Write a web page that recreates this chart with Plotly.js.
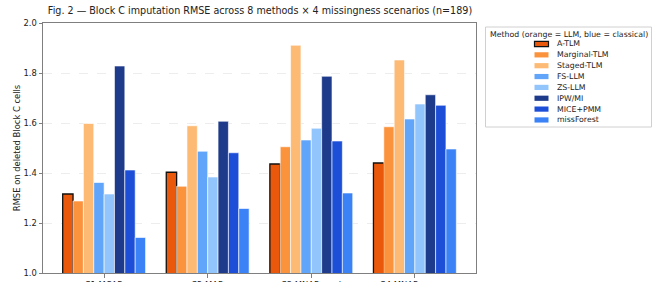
<!DOCTYPE html>
<html>
<head>
<meta charset="utf-8">
<script src="https://cdn.plot.ly/plotly-3.0.1.min.js"></script>
<style>html,body{margin:0;padding:0;background:#fff;}#chart{width:661px;height:282px;}</style>
</head>
<body>
<div id="chart"></div>
<script>
const scenarios = ["S1 MCAR", "S2 MAR", "S3 MNAR-mod", "S4 MNAR-severe"];
const methods = ["A-TLM", "Marginal-TLM", "Staged-TLM", "FS-LLM", "ZS-LLM", "IPW/MI", "MICE+PMM", "missForest"];
const colors = ["#EA580C", "#FB923C", "#FDBA74", "#60A5FA", "#93C5FD", "#1E3A8A", "#1D4ED8", "#3B82F6"];
const rmse_ATLM = [1.316, 1.403, 1.436, 1.440];
const rmse_MarginalTLM = [1.288, 1.347, 1.505, 1.585];
const rmse_StagedTLM = [1.598, 1.589, 1.911, 1.852];
const rmse_FSLLM = [1.362, 1.487, 1.532, 1.616];
const rmse_ZSLLM = [1.316, 1.384, 1.579, 1.676];
const rmse_IPWMI = [1.828, 1.607, 1.787, 1.713];
const rmse_MICEPMM = [1.412, 1.481, 1.528, 1.671];
const rmse_missForest = [1.142, 1.258, 1.320, 1.496];
const seriesValues = [rmse_ATLM, rmse_MarginalTLM, rmse_StagedTLM, rmse_FSLLM, rmse_ZSLLM, rmse_IPWMI, rmse_MICEPMM, rmse_missForest];
const yTicks = [1.0, 1.2, 1.4, 1.6, 1.8, 2.0];
const chartTitle = "Fig. 2 — Block C imputation RMSE across 8 methods × 4 missingness scenarios (n=189)";
const yTitle = "RMSE on deleted Block C cells";
const legendTitle = "Method (orange = LLM, blue = classical)";

const FONT = "DejaVu Sans, sans-serif";
const W = 661, H = 282;
const M = {l: 43, r: 185, t: 23, b: 9};
const pw = W - M.l - M.r, ph = H - M.t - M.b;
const px2x = p => (p - M.l) / pw;
const px2y = p => (H - M.b - p) / ph;

const traces = methods.map((m, i) => ({
  type: "bar",
  name: m,
  x: scenarios.map((s, k) => k),
  y: seriesValues[i],
  marker: {color: colors[i], line: {color: i === 0 ? "#111111" : "#ffffff", width: i === 0 ? 1.3 : 0.6}},
  showlegend: false,
  hoverinfo: "name+y"
}));

// legend drawn as shapes + annotations, built from methods/colors
const shapes = [{
  type: "rect", xref: "paper", yref: "paper",
  x0: px2x(485.5), x1: px2x(651.5), y0: px2y(127), y1: px2y(27),
  line: {color: "#d0d0d0", width: 1}, fillcolor: "rgba(255,255,255,0.8)"
}];
const annotations = [{
  xref: "paper", yref: "paper", x: px2x(568.5), y: px2y(34), text: legendTitle,
  showarrow: false, xanchor: "center", yanchor: "middle",
  font: {family: FONT, size: 7.8, color: "#222"}
}];
methods.forEach((m, i) => {
  const cy = 44 + i * 10.85;
  shapes.push({
    type: "rect", xref: "paper", yref: "paper",
    x0: px2x(534.5), x1: px2x(548.5), y0: px2y(cy + 2.6), y1: px2y(cy - 2.6),
    fillcolor: colors[i],
    line: {color: i === 0 ? "#111111" : colors[i], width: i === 0 ? 1.2 : 0}
  });
  annotations.push({
    xref: "paper", yref: "paper", x: px2x(555), y: px2y(cy), text: m,
    showarrow: false, xanchor: "left", yanchor: "middle",
    font: {family: FONT, size: 7.8, color: "#222"}
  });
});

const layout = {
  width: W, height: H,
  margin: M,
  paper_bgcolor: "#ffffff", plot_bgcolor: "#ffffff",
  font: {family: FONT, color: "#222"},
  title: {text: chartTitle, font: {family: FONT, size: 9.6, color: "#222"}, x: 260 / W, xanchor: "center", y: 1 - 11 / H, yanchor: "middle"},
  barmode: "group", bargap: 0.2, bargroupgap: 0,
  showlegend: false,
  xaxis: {
    range: [-0.59, 3.59], tickmode: "array", tickvals: [0, 1, 2, 3], ticktext: scenarios,
    showgrid: false, zeroline: false, showline: true, mirror: true, linecolor: "#7f7f7f", linewidth: 1,
    ticks: "outside", ticklen: 3.5, tickcolor: "#7f7f7f", tickfont: {family: FONT, size: 8.4, color: "#222"}
  },
  yaxis: {
    range: [1.0, 2.0], tickmode: "array", tickvals: yTicks, tickformat: ".1f",
    showgrid: true, gridcolor: "#e8e8e8", griddash: "dash", gridwidth: 0.8, zeroline: false,
    showline: true, mirror: true, linecolor: "#7f7f7f", linewidth: 1,
    ticks: "outside", ticklen: 3.5, tickcolor: "#7f7f7f", tickfont: {family: FONT, size: 8.4, color: "#222"},
    title: {text: yTitle, font: {family: FONT, size: 8.4, color: "#222"}, standoff: 1}
  },
  shapes: shapes,
  annotations: annotations
};

Plotly.newPlot("chart", traces, layout, {displayModeBar: false, staticPlot: true});
</script>
</body>
</html>
